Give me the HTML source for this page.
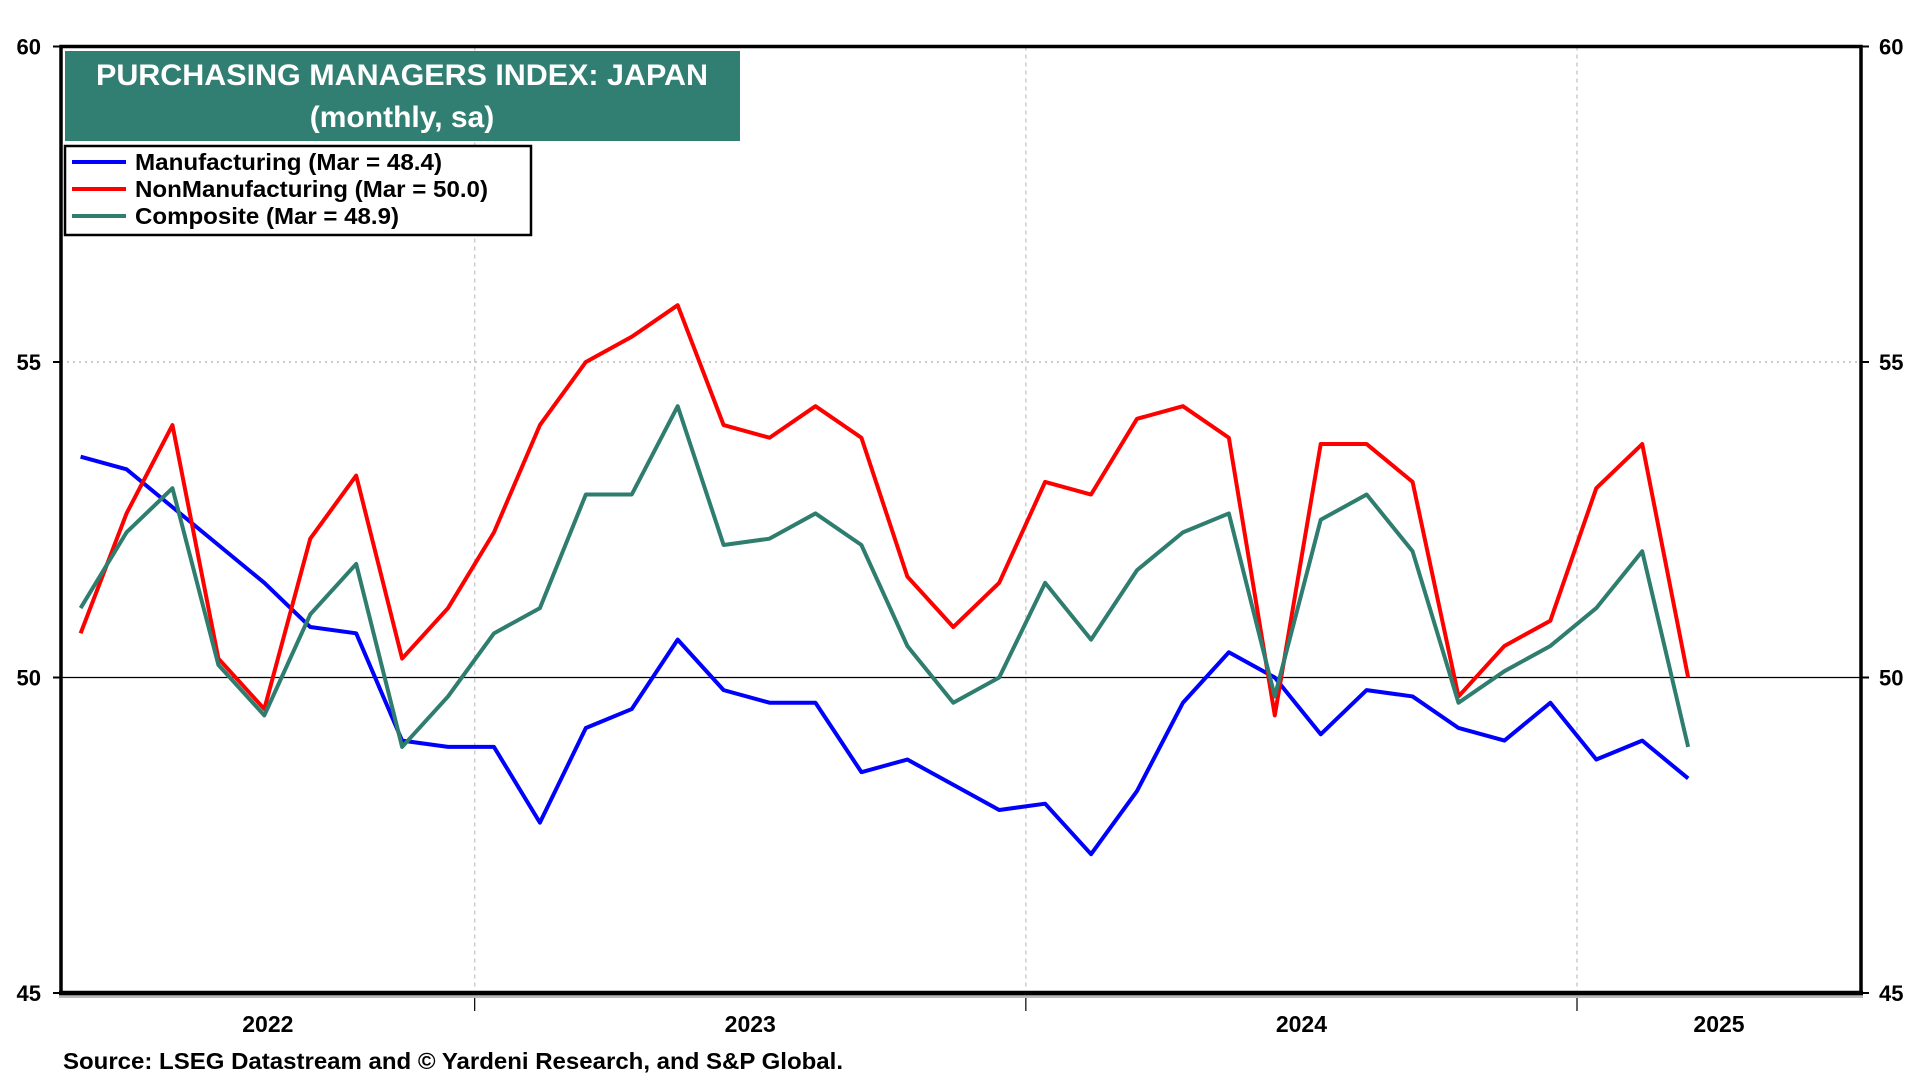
<!DOCTYPE html>
<html><head><meta charset="utf-8"><style>
html,body{margin:0;padding:0;background:#fff;}
svg{display:block;font-family:"Liberation Sans",Arial,sans-serif;font-weight:bold;}
</style></head><body>
<svg id="chart" width="1920" height="1080" viewBox="0 0 1920 1080">
<g id="grid"></g>
<g id="series"></g>
<g id="axes"></g>
<rect x="65" y="51" width="675" height="90" fill="#307f72"/>
<text x="402" y="85" text-anchor="middle" font-size="30" fill="#fff" textLength="612" lengthAdjust="spacingAndGlyphs">PURCHASING MANAGERS INDEX: JAPAN</text>
<text x="402" y="127" text-anchor="middle" font-size="30" fill="#fff">(monthly, sa)</text>
<g>
<rect x="65" y="146" width="466" height="89" fill="#fff" stroke="#000" stroke-width="2.5"/>
<line x1="72" y1="162" x2="126" y2="162" stroke="#0000ff" stroke-width="4"/>
<text x="135" y="170" font-size="23" textLength="307" lengthAdjust="spacingAndGlyphs">Manufacturing (Mar = 48.4)</text>
<line x1="72" y1="189" x2="126" y2="189" stroke="#ff0000" stroke-width="4"/>
<text x="135" y="197" font-size="23" textLength="353" lengthAdjust="spacingAndGlyphs">NonManufacturing (Mar = 50.0)</text>
<line x1="72" y1="216" x2="126" y2="216" stroke="#2e7d6f" stroke-width="4"/>
<text x="135" y="224" font-size="23" textLength="264" lengthAdjust="spacingAndGlyphs">Composite (Mar = 48.9)</text>
</g>
<text x="63" y="1069" font-size="23" textLength="780" lengthAdjust="spacingAndGlyphs">Source: LSEG Datastream and © Yardeni Research, and S&amp;P Global.</text>
</svg>
<script>
const months = ["Apr22","May22","Jun22","Jul22","Aug22","Sep22","Oct22","Nov22","Dec22","Jan23","Feb23","Mar23","Apr23","May23","Jun23","Jul23","Aug23","Sep23","Oct23","Nov23","Dec23","Jan24","Feb24","Mar24","Apr24","May24","Jun24","Jul24","Aug24","Sep24","Oct24","Nov24","Dec24","Jan25","Feb25","Mar25"];
const manufacturing = [53.5,53.3,52.7,52.1,51.5,50.8,50.7,49.0,48.9,48.9,47.7,49.2,49.5,50.6,49.8,49.6,49.6,48.5,48.7,48.3,47.9,48.0,47.2,48.2,49.6,50.4,50.0,49.1,49.8,49.7,49.2,49.0,49.6,48.7,49.0,48.4];
const nonManufacturing = [50.7,52.6,54.0,50.3,49.5,52.2,53.2,50.3,51.1,52.3,54.0,55.0,55.4,55.9,54.0,53.8,54.3,53.8,51.6,50.8,51.5,53.1,52.9,54.1,54.3,53.8,49.4,53.7,53.7,53.1,49.7,50.5,50.9,53.0,53.7,50.0];
const composite = [51.1,52.3,53.0,50.2,49.4,51.0,51.8,48.9,49.7,50.7,51.1,52.9,52.9,54.3,52.1,52.2,52.6,52.1,50.5,49.6,50.0,51.5,50.6,51.7,52.3,52.6,49.7,52.5,52.9,52.0,49.6,50.1,50.5,51.1,52.0,48.9];
const yTicks = [45,50,55,60];
const yearLabels = ["2022","2023","2024","2025"];

const NS="http://www.w3.org/2000/svg";
const L=61, R=1861, T=46.5, B=993;
const monthW=45.93;
const x0=80.6; // Apr 2022 position
const xScale=i=>x0+i*monthW;
const yScale=v=>B-(v-45)/15*(B-T);
const yearBound=k=>x0+(9+12*k-0.42)*monthW;
function mk(tag,attrs,parent){const e=document.createElementNS(NS,tag);for(const k in attrs)e.setAttribute(k,attrs[k]);parent.appendChild(e);return e;}
const grid=document.getElementById('grid'),ser=document.getElementById('series'),ax=document.getElementById('axes');

yTicks.forEach(v=>{
  const y=yScale(v);
  if(v===55){const g=mk('line',{x1:L,x2:R,y1:y,y2:y,stroke:'#bbb','stroke-width':1.5,'stroke-dasharray':'2,4'},grid);
    
    }
  if(v===50){const g=mk('line',{x1:L,x2:R,y1:y,y2:y,stroke:'#000','stroke-width':1.2},grid);
    
    }
  const tl=mk('text',{x:41,y:y+8,'text-anchor':'end','font-size':22},ax);tl.textContent=v;
  
  
  const tr=mk('text',{x:1879,y:y+8,'font-size':22},ax);tr.textContent=v;
  
  
  mk('line',{x1:L-8,x2:L,y1:y,y2:y,stroke:'#000','stroke-width':2},ax);
  mk('line',{x1:R,x2:R+8,y1:y,y2:y,stroke:'#000','stroke-width':2},ax);
});
const bounds=[0,1,2].map(yearBound);
bounds.forEach((bx,k)=>{
  const g=mk('line',{x1:bx,x2:bx,y1:T,y2:B,stroke:'#ccc','stroke-width':1.5,'stroke-dasharray':'4,4'},grid);
  
  
  mk('line',{x1:bx,x2:bx,y1:B,y2:B+18,stroke:'#000','stroke-width':1.2},ax);
});
const edges=[L].concat(bounds).concat([R]);
yearLabels.forEach((lab,k)=>{
  const t=mk('text',{x:(edges[k]+edges[k+1])/2,y:1032,'text-anchor':'middle','font-size':23},ax);t.textContent=lab;
  
  
});
[[manufacturing,'#0000ff','manufacturing'],[nonManufacturing,'#ff0000','nonmanufacturing'],[composite,'#2e7d6f','composite']].forEach(([d,c,n])=>{
  const p=mk('polyline',{points:d.map((v,i)=>xScale(i)+','+yScale(v)).join(' '),fill:'none',stroke:c,'stroke-width':4,'stroke-linejoin':'round'},ser);
  
  
});
const fr=mk('path',{d:`M${L},${B} L${L},${T} L${R},${T} L${R},${B}`,fill:'none',stroke:'#000','stroke-width':3.5},ax);


const bs=mk('line',{x1:L-2,x2:R+2,y1:B+2,y2:B+2,stroke:'#bbb','stroke-width':6},ax);


const bl=mk('line',{x1:L-2,x2:R+2,y1:B,y2:B,stroke:'#000','stroke-width':4.5},ax);


</script>
</body></html>
